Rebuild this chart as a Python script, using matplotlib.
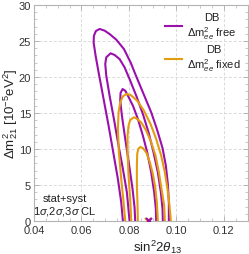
import matplotlib
matplotlib.use("Agg")
import matplotlib.pyplot as plt
from matplotlib.ticker import MultipleLocator
from matplotlib.lines import Line2D

plt.rcParams["font.family"] = ["Liberation Sans", "DejaVu Sans"]
plt.rcParams["mathtext.fontset"] = "custom"
plt.rcParams["mathtext.rm"] = "Liberation Sans"
plt.rcParams["mathtext.it"] = "Liberation Sans:italic"

PURPLE = "#9a10ac"
ORANGE = "#e39c10"

# contours: left side bottom -> top -> right side bottom
# Dm2_ee free (purple), 3 sigma
P3_X = [0.07748, 0.07677, 0.07537, 0.07341, 0.07144, 0.06934, 0.06723, 0.06597,
        0.06513, 0.06527, 0.06611, 0.06765, 0.06976, 0.07186, 0.07467, 0.07790,
        0.08070, 0.08309, 0.08590, 0.08941, 0.09179, 0.09418, 0.09558, 0.09642,
        0.09685, 0.09685]
P3_Y = [0.0, 2.59, 5.83, 9.54, 13.24, 16.94, 20.65, 22.96,
        24.81, 25.74, 26.39, 26.67, 26.44, 25.97, 25.19, 23.89,
        22.04, 20.09, 17.87, 15.09, 12.78, 10.14, 7.69, 5.14,
        2.59, 0.0]
# 2 sigma
P2_X = [0.08028, 0.07916, 0.07748, 0.07565, 0.07369, 0.07186, 0.07046, 0.07004,
        0.07046, 0.07228, 0.07397, 0.07607, 0.07818, 0.08028, 0.08309, 0.08590,
        0.08828, 0.09039, 0.09221, 0.09348, 0.09418, 0.09432]
P2_Y = [0.0, 3.98, 7.22, 10.46, 14.17, 17.41, 20.19, 21.81,
        22.73, 23.29, 23.06, 22.50, 21.34, 19.72, 17.41, 14.86,
        12.31, 9.54, 6.76, 3.98, 1.67, 0.0]
# 1 sigma
P1_X = [0.08267, 0.08239, 0.08155, 0.08014, 0.07846, 0.07706, 0.07635, 0.07649,
        0.07734, 0.07846, 0.07958, 0.08169, 0.08379, 0.08590, 0.08772, 0.08941,
        0.09067, 0.09137, 0.09151]
P1_Y = [0.0, 1.90, 4.44, 7.69, 11.39, 14.63, 16.71, 17.78,
        18.33, 18.10, 17.41, 16.02, 14.17, 11.85, 9.54, 6.76,
        3.98, 1.67, 0.0]

# Dm2_ee fixed (orange), 3 sigma
O3_X = [0.07846, 0.07776, 0.07677, 0.07579, 0.07537, 0.07565, 0.07635, 0.07748,
        0.07902, 0.08071, 0.08351, 0.08632, 0.08913, 0.09151, 0.09362, 0.09516,
        0.09628, 0.09713, 0.09769]
O3_Y = [0.0, 2.59, 5.83, 9.54, 12.78, 15.09, 16.48, 17.31,
        17.64, 17.50, 16.71, 15.32, 13.47, 11.39, 9.07, 6.76,
        4.44, 2.13, 0.0]
# 2 sigma
O2_X = [0.08099, 0.08056, 0.07986, 0.07944, 0.07944, 0.07986, 0.08056, 0.08211,
        0.08309, 0.08520, 0.08730, 0.08941, 0.09123, 0.09264, 0.09376, 0.09488,
        0.09516]
O2_Y = [0.0, 3.06, 6.30, 9.54, 11.85, 13.24, 14.03, 14.40,
        14.26, 13.70, 12.55, 10.93, 9.07, 6.76, 4.44, 2.13,
        0.0]
# 1 sigma
O1_X = [0.08379, 0.08365, 0.08337, 0.08337, 0.08351, 0.08393, 0.08478, 0.08604,
        0.08744, 0.08885, 0.09011, 0.09109, 0.09179, 0.09221]
O1_Y = [0.0, 2.13, 4.91, 7.69, 9.31, 10.00, 10.28, 10.09,
        9.44, 8.15, 6.53, 4.68, 2.59, 0.0]

# best fit points
BF_X = [0.0881, 0.0886]
BF_Y = [0.0, 0.0]

X_TICKS = [0.04, 0.06, 0.08, 0.10, 0.12]
X_LABELS = ["0.04", "0.06", "0.08", "0.10", "0.12"]
Y_TICKS = [0, 5, 10, 15, 20, 25, 30]


def main():
    fig = plt.figure(figsize=(2.49, 2.55), dpi=100)
    ax = fig.add_axes([0.1365, 0.1294, 0.8575, 0.8471])
    ax.set_xlim(0.04, 0.13)
    ax.set_ylim(0, 30)

    # ── grid and frame ───────────────────────────────────────────────────────
    ax.grid(True, which="major", color="#dadada", lw=0.7, ls=(0, (3, 2)))
    for sp in ax.spines.values():
        sp.set_color("#b4b4b4")
        sp.set_linewidth(0.8)
    ax.set_xticks(X_TICKS)
    ax.set_xticklabels(X_LABELS)
    ax.set_yticks(Y_TICKS)
    ax.xaxis.set_minor_locator(MultipleLocator(0.005))
    ax.yaxis.set_minor_locator(MultipleLocator(1))
    ax.tick_params(which="both", direction="in", top=True, right=True,
                   color="#b4b4b4", labelsize=8, labelcolor="#333333", pad=2)
    ax.tick_params(axis="x", which="major", pad=3)
    ax.tick_params(which="major", length=3.5, width=0.7)
    ax.tick_params(which="minor", length=2, width=0.5)

    # ── contours ─────────────────────────────────────────────────────────────
    kw = dict(lw=1.5, solid_joinstyle="round", solid_capstyle="round", zorder=3)
    for xs, ys in [(P3_X, P3_Y), (P2_X, P2_Y), (P1_X, P1_Y)]:
        ax.plot(xs, ys, color=PURPLE, **kw)
    for xs, ys in [(O3_X, O3_Y), (O2_X, O2_Y), (O1_X, O1_Y)]:
        ax.plot(xs, ys, color=ORANGE, **kw)

    ax.plot(BF_X[0], BF_Y[0], marker="x", color=ORANGE, ms=5, mew=1.5, zorder=4)
    ax.plot(BF_X[1], BF_Y[1], marker="x", color=PURPLE, ms=5, mew=1.5, zorder=4)

    # ── labels ───────────────────────────────────────────────────────────────
    ax.set_xlabel(r"sin$^2$2$\theta_{13}$", fontsize=9.5, color="#222222")
    ax.xaxis.label.set_va("bottom")
    ax.xaxis.set_label_coords(0.58, -0.158)
    ax.set_ylabel(r"$\Delta$m$^2_{21}$ [10$^{-5}$eV$^2$]", fontsize=9.5,
                  color="#222222")
    ax.yaxis.label.set_va("center")
    ax.yaxis.set_label_coords(-0.11, 0.5)

    ax.text(0.053, 0.6, "stat+syst\n1$\\sigma$,2$\\sigma$,3$\\sigma$ CL",
            ha="center", va="bottom", fontsize=8, color="#222222",
            linespacing=1.05)

    handles = [Line2D([], [], color=PURPLE, lw=1.5),
               Line2D([], [], color=ORANGE, lw=1.5)]
    labels = ["DB\n$\\Delta$m$^2_{ee}$ free", "DB\n$\\Delta$m$^2_{ee}$ fixed"]
    leg = ax.legend(handles, labels, loc="upper right", fontsize=8,
                    frameon=False, handlelength=1.5, handletextpad=0.5,
                    labelspacing=0.3, borderaxespad=0.2)
    for t in leg.get_texts():
        t.set_multialignment("center")
        t.set_color("#222222")

    fig.savefig("out.png", dpi=100)


if __name__ == "__main__":
    main()
